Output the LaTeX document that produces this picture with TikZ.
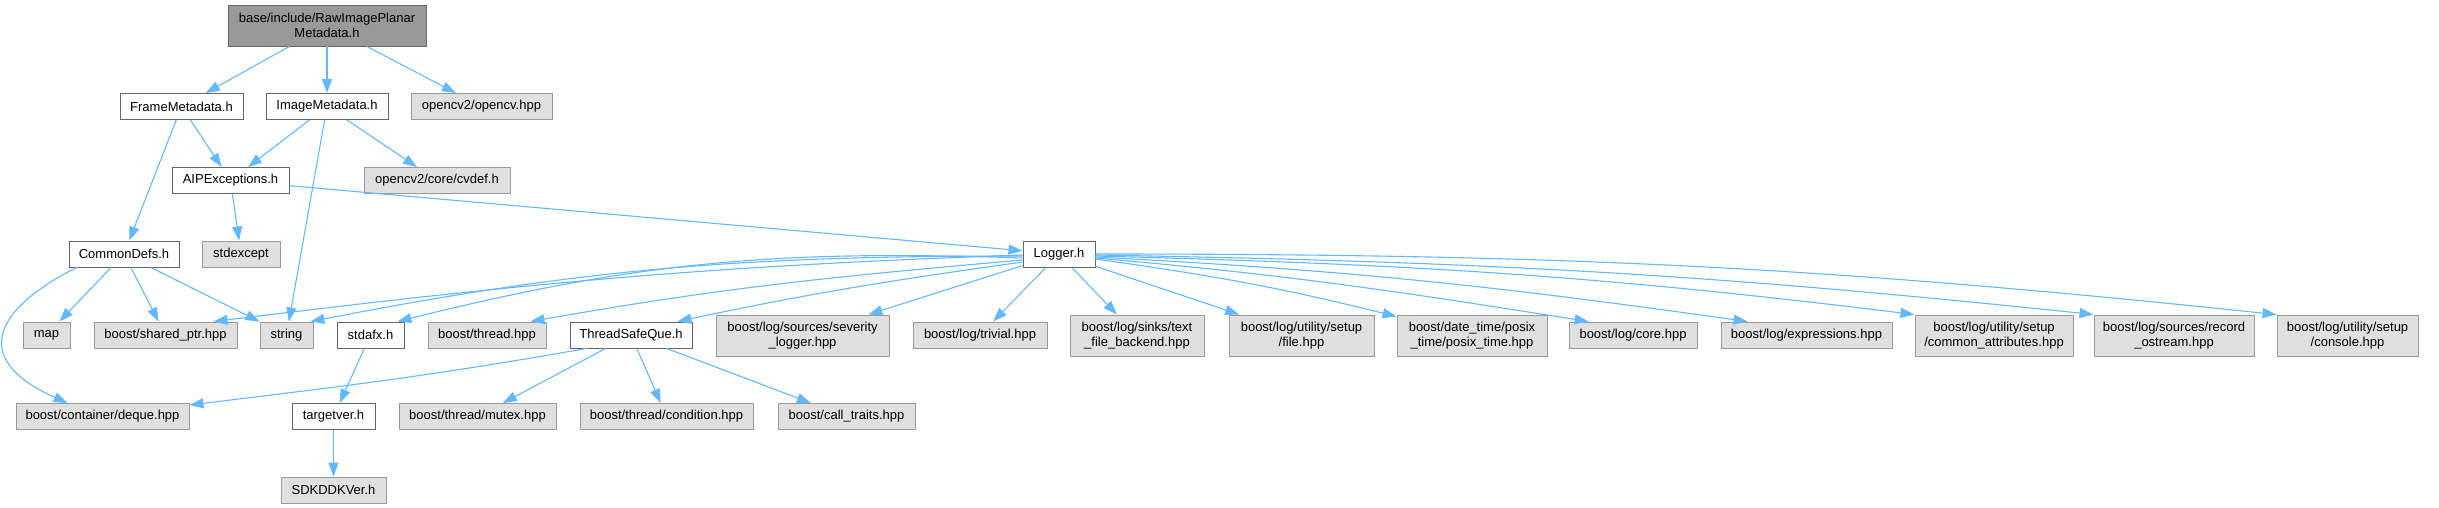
\documentclass[tikz,border=0pt]{standalone}
\usepackage{fontspec}
\setmainfont{Liberation Sans}
\usepackage{xcolor}
\usepackage{tikz}
\usetikzlibrary{arrows.meta}
\definecolor{edgeblue}{HTML}{63B8FF}
\definecolor{rootfill}{HTML}{999999}
\definecolor{sysfill}{HTML}{E0E0E0}
\definecolor{darkrim}{HTML}{666666}
\definecolor{lightrim}{HTML}{999999}

\begin{document}
\begin{tikzpicture}[x=1pt,y=1pt,
    box/.style={rectangle,inner sep=0pt,minimum height=26pt,line width=0.9pt,
      align=center,font=\fontsize{13}{15}\selectfont},
    wd/.style={minimum width=#1pt},
    hdr/.style={box,draw=darkrim,fill=white},
    sys/.style={box,draw=lightrim,fill=sysfill},
    two/.style={minimum height=41pt},
    root/.style={box,two,draw=darkrim,fill=rootfill},
    dep/.style={edgeblue,line width=1.1pt,-{Triangle[length=14pt,width=10pt]}}]
  \useasboundingbox (0,0) rectangle (2439,-508);
  % top file
  \node[root,wd=198] (raw) at (327,-25.5) {base/include/RawImagePlanar\\Metadata.h};
  % direct includes
  \node[hdr,wd=123] (frame) at (181.5,-106.5) {FrameMetadata.h};
  \node[hdr,wd=122] (imgmeta) at (327,-106.5) {ImageMetadata.h};
  \node[sys,wd=141] (opencv) at (481.5,-106.5) {opencv2/opencv.hpp};
  \node[hdr,wd=117] (aipexc) at (230.5,-180.5) {AIPExceptions.h};
  \node[sys,wd=146] (cvdef) at (437,-180.5) {opencv2/core/cvdef.h};
  \node[hdr,wd=110] (cdefs) at (124,-254) {CommonDefs.h};
  \node[sys,wd=78] (stdexc) at (241,-254) {stdexcept};
  \node[hdr,wd=72] (logger) at (1059,-254) {Logger.h};
  % row of leaves
  \node[sys,wd=47] (map) at (46.5,-335) {map};
  \node[sys,wd=143] (shptr) at (165.5,-335) {boost/shared\_ptr.hpp};
  \node[sys,wd=53] (string) at (286.5,-335) {string};
  \node[hdr,wd=67] (stdafx) at (370.5,-335) {stdafx.h};
  \node[sys,wd=118] (thread) at (487,-335) {boost/thread.hpp};
  \node[hdr,wd=122] (tsq) at (631,-335) {ThreadSafeQue.h};
  \node[sys,two,wd=173] (sevlog) at (802.5,-335.5) {boost/log/sources/severity\\\_logger.hpp};
  \node[sys,wd=134] (trivial) at (980,-335) {boost/log/trivial.hpp};
  \node[sys,two,wd=134] (textfile) at (1137,-335.5) {boost/log/sinks/text\\\_file\_backend.hpp};
  \node[sys,two,wd=145] (setupfile) at (1301.5,-335.5) {boost/log/utility/setup\\/file.hpp};
  \node[sys,two,wd=150] (posix) at (1472,-335.5) {boost/date\_time/posix\\\_time/posix\_time.hpp};
  \node[sys,wd=128] (core) at (1633,-335) {boost/log/core.hpp};
  \node[sys,wd=171] (expr) at (1806.5,-335) {boost/log/expressions.hpp};
  \node[sys,two,wd=158] (commattr) at (1994,-335.5) {boost/log/utility/setup\\/common\_attributes.hpp};
  \node[sys,two,wd=160] (recstream) at (2174,-335.5) {boost/log/sources/record\\\_ostream.hpp};
  \node[sys,two,wd=141] (console) at (2347.5,-335.5) {boost/log/utility/setup\\/console.hpp};
  \node[sys,wd=173] (deque) at (102.5,-416.5) {boost/container/deque.hpp};
  \node[hdr,wd=83] (targetver) at (333.5,-416.5) {targetver.h};
  \node[sys,wd=157] (mutex) at (477.5,-416.5) {boost/thread/mutex.hpp};
  \node[sys,wd=173] (cond) at (666.5,-416.5) {boost/thread/condition.hpp};
  \node[sys,wd=137] (calltr) at (846.5,-416.5) {boost/call\_traits.hpp};
  \node[sys,wd=105] (sdk) at (333.5,-490) {SDKDDKVer.h};
  % straight includes
  \foreach \a/\b in {raw/frame,raw/imgmeta,raw/opencv,frame/cdefs,frame/aipexc,
      imgmeta/aipexc,imgmeta/cvdef,imgmeta/string,aipexc/stdexc,aipexc/logger,
      cdefs/map,cdefs/shptr,cdefs/string,logger/sevlog,logger/trivial,
      logger/textfile,logger/setupfile,stdafx/targetver,targetver/sdk,
      tsq/mutex,tsq/cond,tsq/calltr}
    \draw[dep] (\a) -- (\b);
  % Logger.h, bent edges to the left
  \draw[dep] ([yshift=-1pt]logger.west) .. controls +(182:317) and +(7:317) .. ([xshift=-24pt]shptr.north east);
  \draw[dep] ([yshift=-2pt]logger.west) .. controls +(180:280) and +(11:280) .. ([xshift=-3pt]string.north east);
  \draw[dep] ([yshift=-4pt]logger.west) .. controls +(178:246) and +(14:246) .. ([xshift=-7pt]stdafx.north east);
  \draw[dep] ([yshift=-6pt]logger.west) .. controls +(185:194) and +(10:194) .. ([xshift=-16pt]thread.north east);
  \draw[dep] ([yshift=-8pt]logger.west) .. controls +(188:137) and +(12:137) .. ([xshift=-15pt]tsq.north east);
  % Logger.h, bent edges to the right
  \draw[dep] ([yshift=-5pt]logger.east) .. controls +(-8:120) and +(166:120) .. ([yshift=-2pt]posix.north west);
  \draw[dep] ([yshift=-4pt]logger.east) .. controls +(-5:195) and +(171:195) .. ([xshift=20pt]core.north west);
  \draw[dep] ([yshift=-3pt]logger.east) .. controls +(-3:257) and +(172:257) .. ([xshift=27pt]expr.north west);
  \draw[dep] ([yshift=-2pt]logger.east) .. controls +(-1.5:320) and +(173:320) .. (commattr.north west);
  \draw[dep] ([yshift=-1pt]logger.east) .. controls +(-1:390) and +(174:390) .. (recstream.north west);
  \draw[dep] (logger.east) .. controls +(0:463) and +(174:463) .. (console.north west);
  % deque from two sides
  \draw[dep] ([xshift=8pt]cdefs.south west) .. controls +(207:101) and +(156:101) .. ([xshift=52pt]deque.north west);
  \draw[dep] ([xshift=17pt]tsq.south west) .. controls +(190:160) and +(7:160) .. ([yshift=-2pt]deque.north east);
\end{tikzpicture}
\end{document}
